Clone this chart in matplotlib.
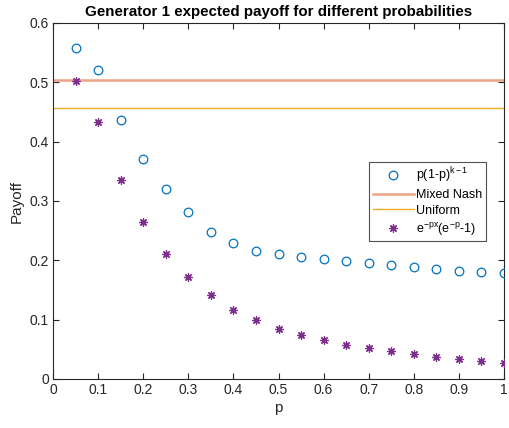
import matplotlib
matplotlib.use("Agg")
import matplotlib.pyplot as plt
import numpy as np

plt.rcParams['font.family'] = ['Liberation Sans', 'DejaVu Sans']
plt.rcParams['mathtext.fontset'] = 'custom'
plt.rcParams['mathtext.rm'] = 'Liberation Sans'
plt.rcParams['mathtext.it'] = 'Liberation Sans'

p_values = [0.05, 0.10, 0.15, 0.20, 0.25, 0.30, 0.35, 0.40, 0.45, 0.50,
            0.55, 0.60, 0.65, 0.70, 0.75, 0.80, 0.85, 0.90, 0.95, 1.00]
geom_payoff = [0.558, 0.521, 0.436, 0.371, 0.320, 0.281, 0.248, 0.229, 0.216, 0.211,
               0.206, 0.202, 0.199, 0.196, 0.192, 0.189, 0.185, 0.182, 0.180, 0.178]
exp_payoff = [0.502, 0.433, 0.335, 0.265, 0.210, 0.172, 0.141, 0.117, 0.099, 0.085,
              0.074, 0.065, 0.058, 0.052, 0.047, 0.042, 0.037, 0.033, 0.030, 0.027]
mixed_nash = 0.5045
uniform = 0.456

x_ticks = [0, 0.1, 0.2, 0.3, 0.4, 0.5, 0.6, 0.7, 0.8, 0.9, 1]
x_tick_labels = ['0', '0.1', '0.2', '0.3', '0.4', '0.5', '0.6', '0.7', '0.8', '0.9', '1']
y_ticks = [0, 0.1, 0.2, 0.3, 0.4, 0.5, 0.6]
y_tick_labels = ['0', '0.1', '0.2', '0.3', '0.4', '0.5', '0.6']

fig = plt.figure(figsize=(5.09, 4.28), dpi=100)
ax = fig.add_axes([53/509, (428-379)/428, (504-53)/509, 356/428])

dark = '#262626'
ax.plot(p_values, geom_payoff, linestyle='none', marker='o', markersize=6.2,
        markerfacecolor='none', markeredgecolor='#0072BD', markeredgewidth=0.9,
        label=r'p(1-p)$^{\mathregular{k-1}}$', zorder=3)
ax.axhline(mixed_nash, color='#ECA488', linewidth=1.8, label='Mixed Nash', zorder=2)
ax.axhline(uniform, color='#EDB120', linewidth=1.0, label='Uniform', zorder=2)
ax.plot(p_values, exp_payoff, linestyle='none', marker=(8, 2, 0), markersize=6,
        markeredgecolor='#7E2F8E', markeredgewidth=0.9,
        label=r'e$^{\mathregular{-px}}$(e$^{\mathregular{-p}}$-1)', zorder=3)

ax.set_xlim(0, 1)
ax.set_ylim(0, 0.6)
ax.set_xticks(x_ticks)
ax.set_xticklabels(x_tick_labels)
ax.set_yticks(y_ticks)
ax.set_yticklabels(y_tick_labels)
ax.tick_params(direction='in', top=True, right=True, length=4, width=0.8,
               colors=dark, labelsize=10, pad=3)
for s in ax.spines.values():
    s.set_color(dark)
    s.set_linewidth(0.8)

ax.set_xlabel('p', fontsize=11, color=dark, labelpad=3)
ax.set_ylabel('Payoff', fontsize=11, color=dark, labelpad=4)
ax.set_title('Generator 1 expected payoff for different probabilities',
             fontsize=10.9, fontweight='bold', color='black', pad=5)

leg = ax.legend(loc='upper left', bbox_to_anchor=((369-53)/451, (379-162)/356),
                fontsize=9, frameon=True, fancybox=False, edgecolor=dark,
                borderpad=0.3, handlelength=3.3, labelspacing=0.3, handletextpad=0.2,
                borderaxespad=0)
leg.get_frame().set_linewidth(0.8)

fig.savefig('out.png', dpi=100)
